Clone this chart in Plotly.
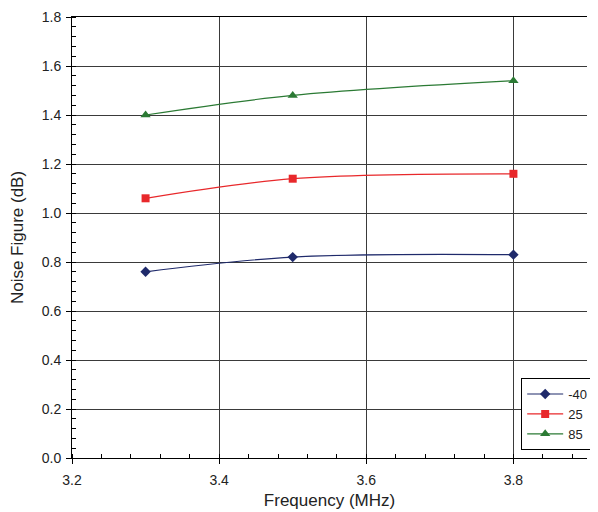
import plotly.graph_objects as go

freq = [3.3, 3.5, 3.8]
nf_m40 = [0.76, 0.82, 0.83]
nf_25 = [1.06, 1.14, 1.16]
nf_85 = [1.40, 1.48, 1.54]
series_names = ["-40", "25", "85"]

FONT = "Liberation Sans, Arial"

fig = go.Figure()
styles = [
    (nf_m40, "#1F2A6B", "diamond", 8),
    (nf_25, "#E8282B", "square", 8),
    (nf_85, "#2B7A34", "triangle-up", 9),
]
for name, (vals, col, sym, sz) in zip(series_names, styles):
    fig.add_trace(go.Scatter(
        x=freq, y=vals, name=name, mode="lines+markers",
        line=dict(color=col, width=1.2, shape="spline", smoothing=1),
        marker=dict(symbol=sym, size=sz, color=col),
    ))

axis_common = dict(
    showline=True, linecolor="black", linewidth=1,
    ticks="outside", ticklen=5, tickcolor="black",
    showgrid=True, gridcolor="#3a3a3a", gridwidth=1,
    zeroline=False, ticklabeloverflow="allow",
    tickfont=dict(family=FONT, size=14, color="#222"),
)

fig.update_xaxes(
    range=[3.2, 3.9], dtick=0.2, tick0=3.2, tickformat=".1f",
    ticklabelstandoff=4, mirror=True,
    title=dict(text="Frequency (MHz)", font=dict(family=FONT, size=17, color="#222"), standoff=7),
    minor=dict(ticks="inside", dtick=0.04, tick0=3.2, ticklen=4, tickcolor="black", showgrid=False),
    **axis_common,
)
fig.update_yaxes(
    range=[0, 1.8], dtick=0.2, tickformat=".1f",
    ticklabelstandoff=2,
    title=dict(text="Noise Figure (dB)", font=dict(family=FONT, size=17, color="#222"), standoff=19),
    minor=dict(ticks="inside", dtick=0.04, tick0=0, ticklen=4, tickcolor="black", showgrid=False),
    **axis_common,
)

fig.update_layout(
    width=598, height=512,
    margin=dict(l=64, r=19, t=9, b=62, autoexpand=False),
    paper_bgcolor="white", plot_bgcolor="white",
    showlegend=True,
    legend=dict(
        x=1.012, y=0.018, xanchor="right", yanchor="bottom",
        bgcolor="white", bordercolor="black", borderwidth=1,
        font=dict(family=FONT, size=13, color="#222"),
        itemwidth=36, tracegroupgap=0,
    ),
)

fig.write_html("out.html")
